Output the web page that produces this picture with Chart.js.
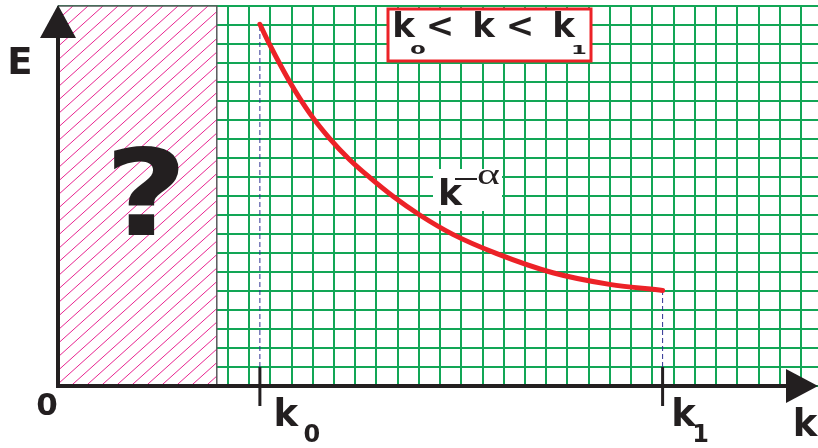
<!DOCTYPE html>
<html>
<head>
<meta charset="utf-8">
<script src="https://cdn.jsdelivr.net/npm/chart.js@4/dist/chart.umd.min.js"></script>
<style>
  html, body { margin: 0; padding: 0; background: #fff; }
  canvas { display: block; }
</style>
</head>
<body>
<canvas id="chart" width="818" height="448"></canvas>
<script>
// curve E(k), in grid cells
const curveK = [9.51, 9.98, 10.92, 11.86, 12.80, 13.74, 14.68, 15.81, 17.04, 18.60, 20.64, 23.31, 25.98, 28.48];
const curveE = [19.04, 17.95, 16.00, 14.35, 13.02, 11.91, 10.98, 9.96, 9.00, 7.98, 6.98, 5.96, 5.35, 5.03];
const kMarks = [9.51, 28.48];          // k0, k1
const kMarkLabels = ['0', '1'];
const unknownEnd = 7.48;               // end of the "?" region
const xMax = 35.8;
const yMax = 20;

const INK = '#231f20';
const RED = '#ec2227';
const GREEN = '#12a656';
const BOLD = 'bold {s}px "DejaVu Sans", Verdana, sans-serif';
const font = s => BOLD.replace('{s}', s);

const hatchPlugin = {
  id: 'hatch',
  beforeDatasetsDraw(chart) {
    const { ctx, scales: { x, y } } = chart;
    const x0 = x.getPixelForValue(0), x1 = x.getPixelForValue(unknownEnd);
    const top = y.getPixelForValue(yMax), bot = y.getPixelForValue(0);
    ctx.save();
    ctx.fillStyle = '#fff';
    ctx.fillRect(x0, top, x1 - x0, bot - top);
    ctx.beginPath();
    ctx.rect(x0, top, x1 - x0, bot - top);
    ctx.clip();
    ctx.strokeStyle = '#e8238f';
    ctx.lineWidth = 1;
    const h = bot - top;
    const run = h / 0.9;
    for (let sx = x0 - run; sx < x1; sx += 15) {
      ctx.beginPath();
      ctx.moveTo(sx, bot);
      ctx.lineTo(sx + run, top);
      ctx.stroke();
    }
    ctx.restore();
    ctx.save();
    ctx.strokeStyle = '#58595b';
    ctx.lineWidth = 1.5;
    ctx.beginPath();
    ctx.moveTo(x0, top);
    ctx.lineTo(x1, top);
    ctx.lineTo(x1, bot);
    ctx.stroke();
    ctx.restore();
  }
};

const decorPlugin = {
  id: 'decor',
  afterDraw(chart) {
    const { ctx, scales: { x, y } } = chart;
    const ox = x.getPixelForValue(0), oy = y.getPixelForValue(0);
    const right = x.right, top = y.getPixelForValue(yMax);
    ctx.save();
    ctx.fillStyle = INK;
    ctx.strokeStyle = INK;

    // axes with arrows
    ctx.lineWidth = 4;
    ctx.beginPath();
    ctx.moveTo(ox, oy + 2);
    ctx.lineTo(ox, top + 30);
    ctx.moveTo(ox - 2, oy);
    ctx.lineTo(right - 30, oy);
    ctx.stroke();
    ctx.beginPath();
    ctx.moveTo(ox - 18, top + 32);
    ctx.lineTo(ox, top - 1);
    ctx.lineTo(ox + 18, top + 32);
    ctx.closePath();
    ctx.fill();
    ctx.beginPath();
    ctx.moveTo(right - 32, oy - 17);
    ctx.lineTo(right, oy);
    ctx.lineTo(right - 32, oy + 17);
    ctx.closePath();
    ctx.fill();

    // tick marks at k0, k1
    ctx.lineWidth = 3;
    kMarks.forEach(k => {
      const px = x.getPixelForValue(k);
      ctx.beginPath();
      ctx.moveTo(px, y.getPixelForValue(1));
      ctx.lineTo(px, oy + 20);
      ctx.stroke();
    });

    ctx.textAlign = 'center';
    ctx.textBaseline = 'alphabetic';
    ctx.font = font(37);
    ctx.fillText('E', 20, 74);
    ctx.fillText('k', 805, 436);
    ctx.font = font(31);
    ctx.fillText('0', 47, 415);
    const kOff = [26, 21], subOff = [52, 38];
    kMarks.forEach((k, i) => {
      const px = x.getPixelForValue(k);
      ctx.font = font(37);
      ctx.fillText('k', px + kOff[i], 426);
      ctx.font = font(24);
      ctx.fillText(kMarkLabels[i], px + subOff[i], 442);
    });

    // question mark
    ctx.save();
    ctx.translate(146, 235);
    ctx.scale(1.2, 1);
    ctx.font = font(120);
    ctx.fillText('?', 0, 0);
    ctx.restore();

    // k0 < k < k1 box
    ctx.fillStyle = '#fff';
    ctx.fillRect(387, 8, 205, 54);
    ctx.strokeStyle = RED;
    ctx.lineWidth = 3;
    ctx.strokeRect(388, 9, 203, 52);
    ctx.fillStyle = INK;
    ctx.font = font(34);
    ctx.fillText('k', 403.5, 37);
    ctx.fillText('<', 440, 37);
    ctx.fillText('k', 483.5, 37);
    ctx.fillText('<', 520, 37);
    ctx.fillText('k', 563.5, 37);
    ctx.font = font(12);
    [[418, kMarkLabels[0]], [579, kMarkLabels[1]]].forEach(([cx, t]) => {
      ctx.save();
      ctx.translate(cx, 54);
      ctx.scale(1.9, 1);
      ctx.fillText(t, 0, 0);
      ctx.restore();
    });

    // k^-alpha label
    ctx.fillStyle = '#fff';
    ctx.fillRect(433, 169, 69, 42);
    ctx.fillStyle = INK;
    ctx.font = font(36);
    ctx.fillText('k', 450, 205);
    ctx.fillRect(455, 178, 22, 2);
    ctx.save();
    ctx.translate(488.5, 184);
    ctx.scale(1.45, 1);
    ctx.font = '30px "Liberation Serif", serif';
    ctx.fillText('\u03b1', 0, 0);
    ctx.restore();
    ctx.restore();
  }
};

const dashed = kMarks.map((k, i) => ({
  data: [{ x: k, y: 1 }, { x: k, y: i === 0 ? curveE[0] : curveE[curveE.length - 1] }],
  borderColor: '#2e3192',
  borderWidth: 1,
  borderDash: [5, 3],
  pointRadius: 0,
  order: 2
}));

new Chart(document.getElementById('chart'), {
  type: 'line',
  data: {
    datasets: [
      {
        data: curveK.map((k, i) => ({ x: k, y: curveE[i] })),
        borderColor: RED,
        borderWidth: 5,
        pointRadius: 0,
        cubicInterpolationMode: 'monotone',
        borderCapStyle: 'round',
        order: 0
      },
      ...dashed
    ]
  },
  options: {
    responsive: false,
    animation: false,
    layout: { padding: { left: 58, top: 6, right: 0, bottom: 62 } },
    plugins: { legend: { display: false }, tooltip: { enabled: false } },
    scales: {
      x: {
        type: 'linear', min: 0, max: xMax,
        ticks: { display: false, stepSize: 1, includeBounds: false },
        grid: { color: GREEN, lineWidth: 2, drawTicks: false },
        border: { display: false }
      },
      y: {
        type: 'linear', min: 0, max: yMax,
        ticks: { display: false, stepSize: 1 },
        grid: { color: GREEN, lineWidth: 2, drawTicks: false },
        border: { display: false }
      }
    }
  },
  plugins: [hatchPlugin, decorPlugin]
});
</script>
</body>
</html>
